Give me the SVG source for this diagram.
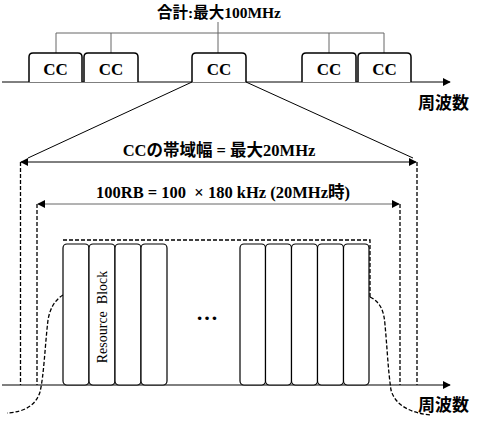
<svg xmlns="http://www.w3.org/2000/svg" width="478" height="423" viewBox="0 0 478 423">
<defs>
<marker id="ah" viewBox="0 0 10 10" refX="9" refY="5" markerWidth="8" markerHeight="8" markerUnits="userSpaceOnUse" orient="auto-start-reverse"><path d="M0,0 L10,5 L0,10 z" fill="#000"/></marker>
<style>
.ln{stroke:#000;stroke-width:1;fill:none}
.gr{stroke:#666;stroke-width:1;fill:none}
.ds{stroke:#000;stroke-width:1.3;fill:none;stroke-dasharray:4,2}
.box{stroke:#000;stroke-width:1.5;fill:#fff}
.rb{stroke:#000;stroke-width:1.2;fill:#fff}
.ser{font-family:"Liberation Serif","Noto Sans CJK JP",serif;font-weight:bold;fill:#000}
.reg{font-family:"Liberation Serif",serif;font-weight:normal;fill:#000}
.cjk{font-family:"Noto Sans CJK JP","Liberation Sans",sans-serif;font-weight:bold;fill:#000}
</style>
</defs>
<rect width="478" height="423" fill="#fff"/>
<g id="connectors">
<path class="gr" d="M56,53 V33 H384 V53 M111,33 V53 M329,33 V53 M218,22 V53"/>
<line class="ln" x1="2" y1="82" x2="450" y2="82" marker-end="url(#ah)"/>
<line class="ln" x1="192" y1="82" x2="28" y2="158"/>
<line class="ln" x1="246" y1="82" x2="413" y2="158"/>
<line class="ln" x1="21" y1="162" x2="416" y2="162" marker-start="url(#ah)" marker-end="url(#ah)"/>
<line class="gr" x1="38" y1="204" x2="399" y2="204" marker-start="url(#ah)" marker-end="url(#ah)"/>
<path class="ds" d="M20.5,162 V385 M417,162 V385 M37,204 V385 M400,204 V385"/>
<line class="ln" x1="2" y1="385" x2="450" y2="385" marker-end="url(#ah)"/>
<path class="ds" d="M63,240 H370 V297"/>
<path class="ds" d="M63,295 C55,300 50,308 48,320 C45,345 44,375 40,392 C36,405 25,412 7,413"/>
<path class="ds" d="M370,297 C380,302 384,310 385,325 C387,345 388,370 391,390 C395,405 410,413 431,415"/>
</g>
<g id="title"><text class="ser" x="219" y="18" font-size="15.5" text-anchor="middle">合計:最大100MHz</text></g>
<g id="cc1"><path class="box" d="M29,82 V57 Q29,53 33,53 H78 Q82,53 82,57 V82"/><text class="ser" x="55.5" y="75" font-size="17" text-anchor="middle">CC</text></g>
<g id="cc2"><path class="box" d="M84,82 V57 Q84,53 88,53 H134 Q138,53 138,57 V82"/><text class="ser" x="111" y="75" font-size="17" text-anchor="middle">CC</text></g>
<g id="cc3"><path class="box" d="M192,82 V57 Q192,53 196,53 H242 Q246,53 246,57 V82"/><text class="ser" x="219" y="75" font-size="17" text-anchor="middle">CC</text></g>
<g id="cc4"><path class="box" d="M302,82 V57 Q302,53 306,53 H352 Q356,53 356,57 V82"/><text class="ser" x="329" y="75" font-size="17" text-anchor="middle">CC</text></g>
<g id="cc5"><path class="box" d="M358,82 V57 Q358,53 362,53 H407 Q411,53 411,57 V82"/><text class="ser" x="384.5" y="75" font-size="17" text-anchor="middle">CC</text></g>
<g id="freq1"><text class="cjk" x="418" y="109" font-size="17">周波数</text></g>
<g id="ccbw"><text class="ser" x="219" y="156" font-size="16.5" text-anchor="middle">CCの帯域幅 = 最大20MHz</text></g>
<g id="rbbw"><text class="ser" x="223" y="198" font-size="16.5" text-anchor="middle">100RB = 100&#160; × 180 kHz (20MHz時)</text></g>
<g id="rbs">
<rect class="rb" x="63" y="244" width="26" height="141" rx="4"/>
<rect class="rb" x="89" y="244" width="26" height="141" rx="4"/>
<rect class="rb" x="115" y="244" width="26" height="141" rx="4"/>
<rect class="rb" x="141" y="244" width="26" height="141" rx="4"/>
<rect class="rb" x="240" y="244" width="25.5" height="141" rx="4"/>
<rect class="rb" x="265.5" y="244" width="26" height="141" rx="4"/>
<rect class="rb" x="291.5" y="244" width="26" height="141" rx="4"/>
<rect class="rb" x="317.5" y="244" width="26" height="141" rx="4"/>
<rect class="rb" x="343.5" y="244" width="25.5" height="141" rx="4"/>
</g>
<g id="rblabel"><text class="reg" x="0" y="0" font-size="14" text-anchor="middle" transform="translate(107,317) rotate(-90)">Resource&#160; Block</text></g>
<g id="dots"><text class="ser" x="207" y="320" font-size="22" text-anchor="middle">…</text></g>
<g id="freq2"><text class="cjk" x="418" y="411" font-size="17">周波数</text></g>
</svg>
